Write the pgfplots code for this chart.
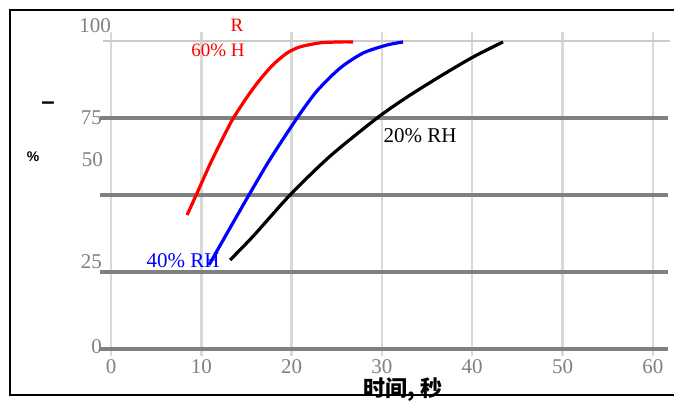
\documentclass[border=0pt]{standalone}
\usepackage{pgfplots}
\pgfplotsset{compat=1.18}
\usepackage{fontspec}
\setmainfont{Liberation Serif}
\newfontfamily\cjk{Noto Sans CJK SC}
\newfontfamily\sansb{Liberation Sans}
\definecolor{tickgray}{HTML}{808080}
\definecolor{vgrid}{HTML}{D9D9D9}
\definecolor{hgrid}{HTML}{808080}
\definecolor{topgrid}{HTML}{CACACA}
\definecolor{cred}{HTML}{FF0000}
\definecolor{cblue}{HTML}{0000FF}
\begin{document}
\begin{tikzpicture}
\path[use as bounding box] (0pt,0pt) rectangle (674pt,-401pt);
\begin{axis}[
    at={(100.2pt,-356.1pt)}, anchor=south west,
    x=9.03pt, y=3.08pt,
    xmin=-1.2, xmax=61.7, ymin=-2.3, ymax=102.9,
    axis line style={draw=none},
    tick style={draw=none},
    xtick={0,10,...,60},
    ytick={0,25,50,75},
    yticklabels={},
    xmajorgrids, ymajorgrids,
    x grid style={draw=vgrid, line width=2.4pt},
    y grid style={draw=hgrid, line width=3.2pt},
    every x tick label/.append style={anchor=center, yshift=-11pt,
        text=tickgray, font=\fontsize{21}{21}\selectfont},
    /pgf/number format/assume math mode=true,
    clip=false,
]
\draw[topgrid, line width=2.6pt] (axis cs:-0.9,100) -- (axis cs:61.9,100);
\addplot[cred, line width=3.2pt, smooth, tension=0.45] coordinates {
 (8.42,43.5) (9.52,50.6) (10.96,60.0) (12.40,68.6) (13.51,74.8) (15.06,81.8)
 (16.50,87.5) (17.94,92.3) (19.49,96.1) (20.93,98.1) (23.15,99.4) (25.36,99.7) (26.80,99.7)};
\addplot[cblue, line width=3.2pt, smooth, tension=0.45] coordinates {
 (10.85,27.3) (13.18,39.3) (15.39,50.6) (17.61,61.6) (20.60,75.0) (22.81,83.8)
 (25.36,91.2) (27.91,96.1) (30.56,98.7) (32.34,99.7)};
\addplot[black, line width=3.2pt, smooth, tension=0.45] coordinates {
 (13.18,28.9) (15.73,36.6) (19.82,50.0) (24.25,62.6) (29.46,75.0) (32.78,81.8)
 (36.43,88.5) (40.09,94.8) (43.41,99.7)};
\end{axis}
% frame
\draw[black, line width=2pt] (674pt,-10pt) -- (10pt,-10pt) -- (10pt,-395pt) -- (674pt,-395pt);
% y tick labels (as placed in the original)
\begin{scope}[every node/.style={text=tickgray, font=\fontsize{21}{21}\selectfont, inner sep=0pt, anchor=east}]
\node at (111pt,-26pt) {100};
\node at (102pt,-118pt) {75};
\node at (103pt,-160pt) {50};
\node at (102pt,-262pt) {25};
\node at (102pt,-347pt) {0};
\end{scope}
% y label remnants
\node[font=\sansb\bfseries\fontsize{24}{24}\selectfont, inner sep=0pt] at (48pt,-106pt) {–};
\node[font=\sansb\bfseries\fontsize{14}{14}\selectfont, inner sep=0pt] at (33pt,-157pt) {\%};
% curve labels
\node[text=cred, font=\fontsize{19}{19}\selectfont, inner sep=0pt] at (237pt,-25pt) {R};
\node[text=cred, font=\fontsize{19}{19}\selectfont, inner sep=0pt] at (218pt,-50pt) {60\% H};
\node[text=cblue, font=\fontsize{21}{21}\selectfont, inner sep=0pt] at (183pt,-261pt) {40\% RH};
\node[text=black, font=\fontsize{21}{21}\selectfont, inner sep=0pt] at (420pt,-136pt) {20\% RH};
% x label
\node[font=\cjk\bfseries\fontsize{22}{22}\selectfont, inner sep=0pt] at (403pt,-390pt) {时间, 秒};
\end{tikzpicture}
\end{document}
